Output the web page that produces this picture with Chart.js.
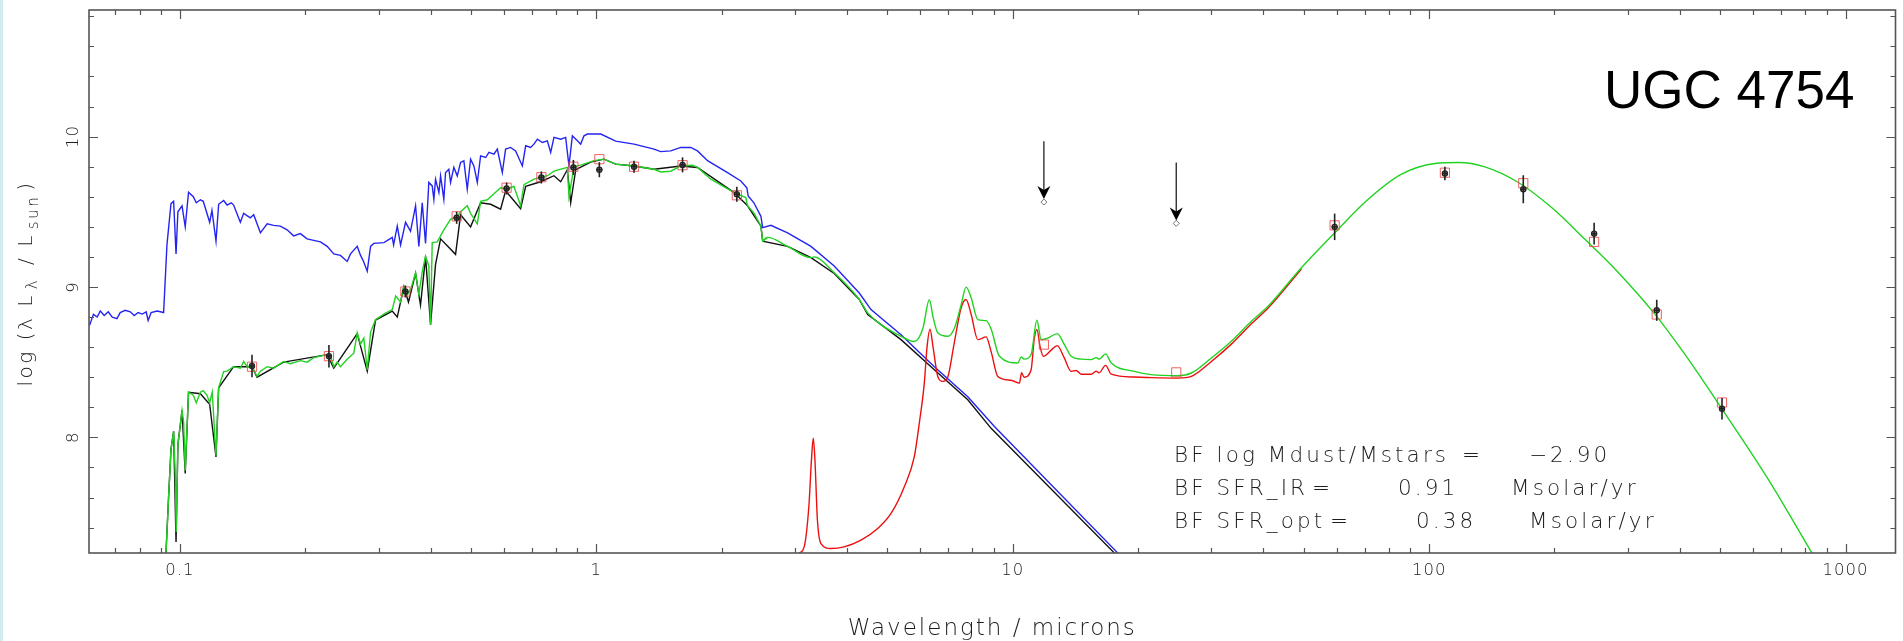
<!DOCTYPE html>
<html lang="en">
<head>
<meta charset="UTF-8">
<title>UGC 4754 SED</title>
<script src="https://cdn.jsdelivr.net/npm/chart.js"></script>
<style>
  html, body { margin: 0; padding: 0; background: #fff; overflow: hidden; }
  canvas { display: block; }
</style>
</head>
<body>
<canvas id="sedChart" width="1903" height="641"></canvas>
<script>
// wavelengths in microns, luminosities as log(lambda L_lambda / L_sun)

// unattenuated stellar spectrum (blue)
const wlStarsIntrinsic = [0.0607, 0.0620, 0.0633, 0.0644, 0.0658, 0.0673, 0.0688, 0.0706, 0.0719, 0.0739, 0.0760, 0.0777, 0.0794, 0.0812, 0.0830, 0.0839, 0.0853, 0.0882, 0.0914, 0.0931, 0.0952, 0.0966, 0.0979, 0.0989, 0.1012, 0.1030, 0.1049, 0.1077, 0.1095, 0.1120, 0.1138, 0.1179, 0.1194, 0.1221, 0.1239, 0.1274, 0.1298, 0.1329, 0.1346, 0.1397, 0.1423, 0.1476, 0.1504, 0.1561, 0.1620, 0.1680, 0.1743, 0.1809, 0.1876, 0.1947, 0.2021, 0.2096, 0.2176, 0.2258, 0.2342, 0.2430, 0.2522, 0.2569, 0.2666, 0.2716, 0.2761, 0.2818, 0.2870, 0.2922, 0.3090, 0.3236, 0.3260, 0.3327, 0.3388, 0.3483, 0.3580, 0.3681, 0.3749, 0.3819, 0.3890, 0.3961,
  0.4036, 0.4073, 0.4111, 0.4188, 0.4227, 0.4304, 0.4345, 0.4425, 0.4467, 0.4549, 0.4636, 0.4721, 0.4808, 0.4899, 0.4990, 0.5082, 0.5179, 0.5274, 0.5423, 0.5523, 0.5679, 0.5785, 0.5947, 0.6056, 0.6226, 0.6401, 0.6643, 0.6767, 0.6955, 0.7083, 0.7220, 0.7423, 0.7629, 0.7770, 0.7913, 0.8212, 0.8441, 0.8597, 0.8760, 0.9007, 0.9173, 0.9342, 0.9519,
  1.025, 1.113, 1.232, 1.376, 1.428, 1.509, 1.596, 1.686, 1.750, 1.850, 2.066, 2.224, 2.299, 2.316, 2.390, 2.485, 2.509, 2.626, 2.880, 3.277, 3.727, 4.281, 4.567, 5.392, 6.483, 7.800, 9.037, 17.89];
const lumStarsIntrinsic = [8.745, 8.818, 8.80, 8.84, 8.81, 8.835, 8.80, 8.79, 8.83, 8.845, 8.835, 8.81, 8.83, 8.82, 8.835, 8.777, 8.83, 8.84, 8.83, 9.28, 9.554, 9.57, 9.22, 9.50, 9.54, 9.40, 9.63, 9.60, 9.56, 9.58, 9.57, 9.43, 9.51, 9.305, 9.55, 9.575, 9.545, 9.56, 9.545, 9.43, 9.49, 9.46, 9.48, 9.36, 9.42, 9.41, 9.405, 9.38, 9.34, 9.355, 9.32, 9.31, 9.30, 9.27, 9.22, 9.21, 9.17, 9.22, 9.27, 9.21, 9.17, 9.105, 9.27, 9.29, 9.295, 9.33, 9.28, 9.405, 9.28, 9.43, 9.37, 9.54, 9.27, 9.56, 9.29, 9.695,
  9.672, 9.583, 9.717, 9.628, 9.739, 9.583, 9.761, 9.783, 9.695, 9.795, 9.739, 9.828, 9.839, 9.65, 9.85, 9.805, 9.695, 9.872, 9.861, 9.895, 9.883, 9.917, 9.761, 9.917, 9.928, 9.905, 9.805, 9.939, 9.928, 9.95, 9.983, 9.961, 9.972, 9.895, 9.995, 9.983, 9.995, 9.805, 10.005, 9.972, 9.95, 10.005, 10.017,
  10.017, 9.97, 9.95, 9.917, 9.90, 9.905, 9.928, 9.928, 9.905, 9.84, 9.76, 9.705, 9.66, 9.605, 9.56, 9.47, 9.395, 9.41, 9.36, 9.27, 9.14, 8.96, 8.85, 8.683, 8.47, 8.27, 8.072, 7.23];

// attenuated stellar spectrum (black)
const wlStarsAtten = [0.0926, 0.0939, 0.0952, 0.0966, 0.0979, 0.0989, 0.1012, 0.1030, 0.1049, 0.1120, 0.1179, 0.1221, 0.1239, 0.1346, 0.1490, 0.1532, 0.1775, 0.2258, 0.2342, 0.2666, 0.2818, 0.2950, 0.3236, 0.3327, 0.3450, 0.3540, 0.3681, 0.3783, 0.3890, 0.3999, 0.4111, 0.4227, 0.4592, 0.4721, 0.4990, 0.5274, 0.5576, 0.5891, 0.6056, 0.6580, 0.6767, 0.7352, 0.7913, 0.8212, 0.8521, 0.8680, 0.8925, 0.9694, 1.0435, 1.113, 1.232, 1.376, 1.596, 1.750, 2.143, 2.308, 2.485, 2.509, 2.880, 3.277, 3.727, 4.281, 4.485, 5.392, 6.483, 7.800, 8.874, 17.56];
const lumStarsAtten = [7.23, 7.59, 7.92, 8.04, 7.305, 7.95, 8.18, 7.76, 8.30, 8.29, 8.22, 7.87, 8.33, 8.47, 8.47, 8.40, 8.50, 8.55, 8.46, 8.69, 8.44, 8.78, 8.84, 8.80, 9.0, 8.90, 9.09, 8.88, 9.2, 8.75, 9.15, 9.32, 9.217, 9.48, 9.40, 9.56, 9.55, 9.517, 9.64, 9.52, 9.67, 9.70, 9.74, 9.70, 9.78, 9.56, 9.78, 9.83, 9.85, 9.817, 9.805, 9.783, 9.805, 9.795, 9.628, 9.54, 9.405, 9.305, 9.27, 9.195, 9.09, 8.917, 8.817, 8.65, 8.45, 8.25, 8.06, 7.23];

// dust emission (red); beyond ~50 microns it lies under the total curve
const wlDust = [3.071, 3.157, 3.241, 3.286, 3.319, 3.350, 3.396, 3.463, 3.660, 3.938, 4.321, 4.740, 5.102, 5.491, 5.803, 5.966, 6.133, 6.226, 6.330, 6.437, 6.607, 6.792, 6.982, 7.229, 7.516, 7.727, 7.943, 8.243, 8.632, 8.874, 9.209, 9.912, 10.38, 10.50, 10.65, 11.07, 11.26, 11.43, 11.64, 11.85, 12.37, 12.79, 13.29, 13.82, 14.20, 14.60, 15.43, 15.86, 16.13, 16.71, 17.24, 19.61, 21.51, 24.94, 26.85, 30.00, 33.50, 37.42, 41.04, 49.35];
const lumDust = [7.228, 7.272, 7.55, 7.85, 7.994, 7.85, 7.45, 7.294, 7.261, 7.272, 7.317, 7.394, 7.494, 7.672, 7.872, 8.095, 8.361, 8.60, 8.719, 8.60, 8.405, 8.372, 8.40, 8.62, 8.86, 8.917, 8.82, 8.65, 8.668, 8.57, 8.405, 8.38, 8.361, 8.43, 8.40, 8.45, 8.65, 8.717, 8.60, 8.539, 8.58, 8.61, 8.53, 8.439, 8.445, 8.42, 8.42, 8.44, 8.43, 8.479, 8.42, 8.401, 8.397, 8.394, 8.405, 8.505, 8.62, 8.755, 8.86, 9.12];

// total model = attenuated stars + dust (green)
const wlTotal = [0.0926, 0.0939, 0.0952, 0.0966, 0.0975, 0.0980, 0.0989, 0.1012, 0.1021, 0.1030, 0.1049, 0.1077, 0.1095, 0.1120, 0.1138, 0.1162, 0.1179, 0.1196, 0.1221, 0.1239, 0.1274, 0.1298, 0.1346, 0.1397, 0.1423, 0.1450, 0.1490, 0.1532, 0.1561, 0.1620, 0.1680, 0.1743, 0.1775, 0.1842, 0.1947, 0.2021, 0.2096, 0.2176, 0.2258, 0.2298, 0.2342, 0.2385, 0.2430, 0.2522, 0.2616, 0.2666, 0.2716, 0.2765, 0.2818, 0.2870, 0.2950, 0.3090, 0.3236, 0.3297, 0.3388, 0.3450, 0.3516, 0.3580, 0.3681, 0.3749, 0.3819, 0.3890, 0.3961, 0.3999, 0.4036, 0.4150, 0.4304, 0.4467, 0.4636, 0.4721, 0.4899, 0.4990, 0.5179, 0.5274, 0.5475, 0.5679, 0.5891, 0.6114, 0.6341, 0.6580, 0.6703, 0.7083, 0.7629, 0.7913, 0.8521, 0.8597, 0.8839, 0.9173, 0.9874, 1.0435, 1.113, 1.232, 1.376, 1.428, 1.509, 1.596, 1.702, 1.750, 1.884, 2.143, 2.286, 2.308, 2.394, 2.485, 2.509, 2.578, 2.880, 3.277, 3.332, 3.727, 4.281, 4.485, 5.392, 5.803, 6.079, 6.307, 6.437, 6.607, 6.982, 7.229, 7.516, 7.727, 7.943, 8.243, 8.632, 8.874, 9.290, 10.29, 10.48, 10.65, 11.07, 11.43, 11.70, 12.14, 12.79, 13.29, 13.82, 14.60, 15.43, 15.86, 16.13, 16.71, 17.24, 19.61, 21.51, 24.94, 26.85, 30.00, 33.50, 37.42, 41.04, 49.35, 59.34, 71.38, 85.85, 103.2, 117.5, 136.1, 163.8, 196.9, 236.7, 284.9, 348.7, 411.8, 504.6, 653.4, 830.5];
const lumTotal = [7.23, 7.59, 7.92, 8.04, 7.75, 7.37, 7.95, 8.18, 8.10, 7.78, 8.30, 8.28, 8.23, 8.30, 8.31, 8.28, 8.23, 8.30, 7.88, 8.33, 8.437, 8.44, 8.47, 8.46, 8.505, 8.47, 8.47, 8.405, 8.44, 8.47, 8.46, 8.49, 8.505, 8.49, 8.51, 8.50, 8.53, 8.54, 8.55, 8.545, 8.47, 8.50, 8.47, 8.52, 8.56, 8.695, 8.62, 8.66, 8.45, 8.70, 8.783, 8.82, 8.85, 8.94, 8.90, 9.005, 8.95, 8.98, 9.095, 8.95, 9.10, 9.205, 9.14, 8.75, 9.295, 9.30, 9.38, 9.45, 9.47, 9.50, 9.54, 9.49, 9.42, 9.57, 9.58, 9.62, 9.66, 9.65, 9.67, 9.54, 9.68, 9.717, 9.74, 9.77, 9.795, 9.60, 9.80, 9.81, 9.84, 9.85, 9.817, 9.805, 9.783, 9.765, 9.77, 9.805, 9.81, 9.795, 9.717, 9.628, 9.595, 9.54, 9.49, 9.405, 9.305, 9.33, 9.27, 9.195, 9.20, 9.095, 8.917, 8.828, 8.672, 8.637, 8.72, 8.915, 8.80, 8.695, 8.672, 8.72, 8.88, 8.999, 8.93, 8.783, 8.776, 8.72, 8.539, 8.495, 8.535, 8.52, 8.55, 8.779, 8.65, 8.66, 8.69, 8.62, 8.539, 8.52, 8.517, 8.53, 8.52, 8.555, 8.495, 8.439, 8.417, 8.41, 8.428, 8.528, 8.639, 8.772, 8.872, 9.128, 9.361, 9.583, 9.75, 9.821, 9.828, 9.799, 9.695, 9.528, 9.317, 9.095, 8.818, 8.55, 8.19, 7.717, 7.23];

// observed photometry with 1-sigma errors
const wlObs = [0.149, 0.228, 0.348, 0.462, 0.609, 0.738, 0.881, 1.017, 1.232, 1.611, 2.175, 59.3, 109.1, 168.3, 249, 352, 505];
const lumObs = [8.475, 8.54, 8.97, 9.46, 9.655, 9.728, 9.795, 9.78, 9.80, 9.812, 9.617, 9.40, 9.755, 9.65, 9.355, 8.845, 8.19];
const errObs = [0.075, 0.075, 0.04, 0.04, 0.04, 0.04, 0.05, 0.05, 0.04, 0.05, 0.05, 0.088, 0.045, 0.093, 0.072, 0.07, 0.072];

// IRAS upper limits
const wlLimit = [11.88, 24.7];
const lumLimit = [9.565, 9.423];

// model fluxes through the filters
const wlModel = [0.149, 0.228, 0.348, 0.462, 0.609, 0.738, 0.881, 1.017, 1.232, 1.611, 2.175, 11.88, 24.7, 59.3, 109.1, 168.3, 249, 352, 505];
const lumModel = [8.47, 8.54, 8.97, 9.47, 9.66, 9.73, 9.80, 9.85, 9.80, 9.81, 9.61, 8.617, 8.432, 9.41, 9.76, 9.69, 9.30, 8.817, 8.232];

// axes
const xRange = [0.0605, 1318];
const yRange = [7.231, 10.842];
const xTickValues = [0.1, 1, 10, 100, 1000];
const xTickLabels = ['0.1', '1', '10', '100', '1000'];
const yTickValues = [8, 9, 10];
const yTickLabels = ['8', '9', '10'];

const galaxyName = 'UGC 4754';
const fitLines = [
  ['BF log Mdust/Mstars', '=', '\u22122.90', ''],
  ['BF SFR_IR', '=', '0.91', 'Msolar/yr'],
  ['BF SFR_opt', '=', '0.38', 'Msolar/yr']
];

function pts(xs, ys) {
  return xs.map((x, i) => ({ x: x, y: ys[i] }));
}

const thinFont = (size) => '200 ' + size + 'px "DejaVu Sans", "Liberation Sans", sans-serif';
const inkColor = '#1c1c1c';

function spaced(ctx, text, x, y, spacing, align) {
  ctx.save();
  ctx.letterSpacing = spacing + 'px';
  ctx.textAlign = align || 'left';
  ctx.fillText(text, x, y);
  ctx.restore();
}

const sedDecor = {
  id: 'sedDecor',
  beforeDraw(chart) {
    const ctx = chart.ctx;
    ctx.save();
    ctx.fillStyle = '#ffffff';
    ctx.fillRect(0, 0, chart.width, chart.height);
    ctx.fillStyle = '#d3ebf3';
    ctx.fillRect(0, 0, 3, chart.height);
    ctx.restore();
  },
  afterDatasetsDraw(chart) {
    const ctx = chart.ctx;
    const xs = chart.scales.x, ys = chart.scales.y;
    ctx.save();
    // error bars
    ctx.strokeStyle = '#222';
    ctx.lineWidth = 1.6;
    wlObs.forEach((w, i) => {
      const px = xs.getPixelForValue(w);
      ctx.beginPath();
      ctx.moveTo(px, ys.getPixelForValue(lumObs[i] - errObs[i]));
      ctx.lineTo(px, ys.getPixelForValue(lumObs[i] + errObs[i]));
      ctx.stroke();
      ctx.beginPath();
      ctx.moveTo(px - 3, ys.getPixelForValue(lumObs[i]));
      ctx.lineTo(px + 3, ys.getPixelForValue(lumObs[i]));
      ctx.stroke();
    });
    // upper limit arrows
    ctx.fillStyle = '#000';
    ctx.lineWidth = 1.3;
    wlLimit.forEach((w, i) => {
      const px = xs.getPixelForValue(w);
      const tip = ys.getPixelForValue(lumLimit[i]) - 3;
      const top = ys.getPixelForValue(lumLimit[i] + 0.405);
      ctx.beginPath();
      ctx.moveTo(px, top);
      ctx.lineTo(px, tip - 8);
      ctx.stroke();
      ctx.beginPath();
      ctx.moveTo(px, tip);
      ctx.lineTo(px - 6.5, tip - 13);
      ctx.lineTo(px, tip - 9);
      ctx.lineTo(px + 6.5, tip - 13);
      ctx.closePath();
      ctx.fill();
    });
    ctx.restore();
  },
  afterDraw(chart) {
    const ctx = chart.ctx;
    const a = chart.chartArea;
    const xs = chart.scales.x, ys = chart.scales.y;
    ctx.save();

    // frame
    ctx.strokeStyle = '#555';
    ctx.lineWidth = 1.6;
    ctx.strokeRect(a.left, a.top, a.right - a.left, a.bottom - a.top);

    // inward ticks, log x
    ctx.lineWidth = 1.2;
    ctx.beginPath();
    for (let d = -2; d <= 3; d++) {
      for (let m = 1; m <= 9; m++) {
        const v = m * Math.pow(10, d);
        if (v < xRange[0] || v > xRange[1]) continue;
        const px = Math.round(xs.getPixelForValue(v)) + 0.5;
        const len = m === 1 ? 9 : 5;
        ctx.moveTo(px, a.bottom);
        ctx.lineTo(px, a.bottom - len);
        ctx.moveTo(px, a.top);
        ctx.lineTo(px, a.top + len);
      }
    }
    // linear y, minor every 0.2
    for (let k = 37; k <= 54; k++) {
      const v = k / 5;
      if (v < yRange[0] || v > yRange[1]) continue;
      const py = Math.round(ys.getPixelForValue(v)) + 0.5;
      const len = k % 5 === 0 ? 9 : 5;
      ctx.moveTo(a.left, py);
      ctx.lineTo(a.left + len, py);
      ctx.moveTo(a.right, py);
      ctx.lineTo(a.right - len, py);
    }
    ctx.stroke();

    // tick labels
    ctx.fillStyle = inkColor;
    ctx.font = thinFont(16.5);
    xTickValues.forEach((v, i) => {
      spaced(ctx, xTickLabels[i], xs.getPixelForValue(v), a.bottom + 22, 1, 'center');
    });
    yTickValues.forEach((v, i) => {
      ctx.save();
      ctx.translate(a.left - 11, ys.getPixelForValue(v));
      ctx.rotate(-Math.PI / 2);
      spaced(ctx, yTickLabels[i], 0, 0, 1, 'center');
      ctx.restore();
    });

    // x axis title
    ctx.font = thinFont(23);
    spaced(ctx, 'Wavelength / microns', (a.left + a.right) / 2, 635, 2, 'center');

    // y axis title with subscripts
    ctx.save();
    ctx.translate(32, (a.top + a.bottom) / 2);
    ctx.rotate(-Math.PI / 2);
    const parts = [
      ['log (\u03bb L', 20, 0],
      ['\u03bb', 15, 5],
      [' / L', 20, 0],
      ['sun', 15, 6],
      [')', 20, 0]
    ];
    ctx.letterSpacing = '2.5px';
    let total = 0;
    parts.forEach(p => { ctx.font = thinFont(p[1]); total += ctx.measureText(p[0]).width + 4; });
    let cx = -total / 2;
    parts.forEach(p => {
      ctx.font = thinFont(p[1]);
      ctx.fillText(p[0], cx, p[2]);
      cx += ctx.measureText(p[0]).width + 4;
    });
    ctx.restore();

    // galaxy name
    ctx.fillStyle = '#000';
    ctx.font = '53px "Liberation Sans", Arial, sans-serif';
    ctx.textAlign = 'left';
    ctx.fillText(galaxyName, 1604, 108);

    // best-fit parameters
    ctx.fillStyle = inkColor;
    ctx.font = thinFont(21.5);
    const colX = [[1174, 1462, 1529, 0], [1174, 1312, 1398, 1511], [1174, 1330, 1416, 1529]];
    const rowY = [462, 495, 528];
    fitLines.forEach((line, r) => {
      line.forEach((t, c) => {
        if (t) spaced(ctx, t, colX[r][c], rowY[r], 3.1, 'left');
      });
    });

    ctx.restore();
  }
};

// straight segments for the noisy stellar parts, smooth curves for the dust parts
const lineSet = (label, data, color, order, smooth) => ({
  label: label,
  data: data,
  showLine: true,
  pointRadius: 0,
  borderColor: color,
  borderWidth: 1.4,
  tension: smooth ? 0.4 : 0,
  cubicInterpolationMode: smooth ? 'monotone' : 'default',
  order: order
});

const totalPts = pts(wlTotal, lumTotal);

const chart = new Chart(document.getElementById('sedChart'), {
  type: 'scatter',
  data: {
    datasets: [
      {
        label: 'observed',
        data: pts(wlObs, lumObs),
        pointStyle: 'circle',
        pointRadius: 2.6,
        borderColor: '#222',
        backgroundColor: 'rgba(60,60,60,0.6)',
        borderWidth: 1.2,
        order: 0
      },
      {
        label: 'upper limits',
        data: pts(wlLimit, lumLimit),
        pointStyle: 'rectRot',
        pointRadius: 3,
        borderColor: '#777',
        backgroundColor: 'transparent',
        borderWidth: 1,
        order: 0
      },
      {
        label: 'model photometry',
        data: pts(wlModel, lumModel),
        pointStyle: 'rect',
        pointRadius: 6.5,
        borderColor: 'rgba(235,70,70,0.85)',
        backgroundColor: 'transparent',
        borderWidth: 1,
        order: 1
      },
      lineSet('total (stellar part)', totalPts.filter(p => p.x <= 2.6), '#22d222', 2, false),
      lineSet('total (dust part)', totalPts.filter(p => p.x >= 2.5), '#22d222', 2, true),
      lineSet('dust', pts(wlDust, lumDust), '#ec1010', 3, true),
      lineSet('attenuated stars', pts(wlStarsAtten, lumStarsAtten), '#111111', 4, false),
      lineSet('intrinsic stars', pts(wlStarsIntrinsic, lumStarsIntrinsic), '#2424f2', 5, false)
    ]
  },
  options: {
    responsive: false,
    animation: false,
    devicePixelRatio: 1,
    layout: { padding: { left: 89, right: 7, top: 10, bottom: 88 } },
    plugins: { legend: { display: false }, tooltip: { enabled: false } },
    scales: {
      x: { type: 'logarithmic', min: xRange[0], max: xRange[1], display: false },
      y: { type: 'linear', min: yRange[0], max: yRange[1], display: false }
    }
  },
  plugins: [sedDecor]
});
</script>
</body>
</html>
